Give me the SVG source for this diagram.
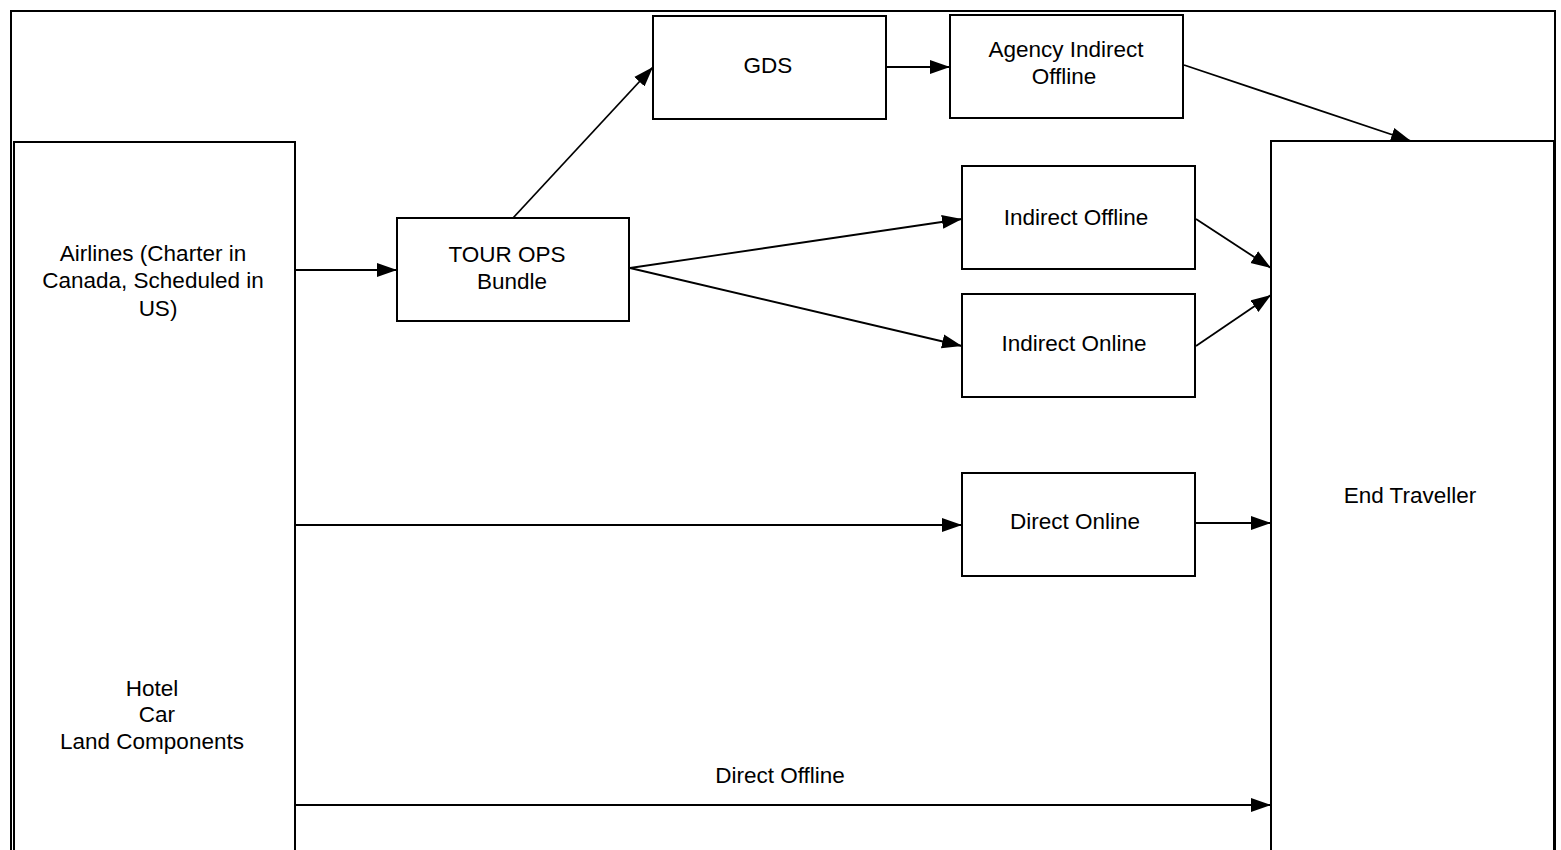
<svg xmlns="http://www.w3.org/2000/svg" width="1561" height="850" viewBox="0 0 1561 850">
<style>
.box{fill:#fff;stroke:#000;stroke-width:2}
.frame{fill:none;stroke:#000;stroke-width:2}
.t{font-family:"Liberation Sans",Arial,sans-serif;font-size:22.5px;fill:#000;text-anchor:middle}
.c{stroke:#000;stroke-width:1.8;fill:none;marker-end:url(#ah)}
</style>
<defs>
<marker id="ah" viewBox="0 0 20 14" refX="20" refY="7" markerWidth="20" markerHeight="15" markerUnits="userSpaceOnUse" orient="auto">
<path d="M0,0 L20,7 L0,14 Z" fill="#000"/>
</marker>
</defs>
<rect width="1561" height="850" fill="#fff"/>
<path class="frame" d="M11,852 L11,11 L1555,11 L1555,852"/>
<g id="airlines">
<rect class="box" x="14" y="142" width="281" height="720"/>
<text class="t" x="153" y="261">Airlines (Charter in</text>
<text class="t" x="153" y="288">Canada, Scheduled in</text>
<text class="t" x="158" y="316">US)</text>
<text class="t" x="152" y="696">Hotel</text>
<text class="t" x="157" y="722">Car</text>
<text class="t" x="152" y="749">Land Components</text>
</g>
<g id="endtraveller">
<rect class="box" x="1271" y="141" width="283" height="720"/>
<text class="t" x="1410" y="503">End Traveller</text>
</g>
<g id="gds">
<rect class="box" x="653" y="16" width="233" height="103"/>
<text class="t" x="768" y="73">GDS</text>
</g>
<g id="agency">
<rect class="box" x="950" y="15" width="233" height="103"/>
<text class="t" x="1066" y="57">Agency Indirect</text>
<text class="t" x="1064" y="84">Offline</text>
</g>
<g id="tourops">
<rect class="box" x="397" y="218" width="232" height="103"/>
<text class="t" x="507" y="262">TOUR OPS</text>
<text class="t" x="512" y="289">Bundle</text>
</g>
<g id="indirectoffline">
<rect class="box" x="962" y="166" width="233" height="103"/>
<text class="t" x="1076" y="225">Indirect Offline</text>
</g>
<g id="indirectonline">
<rect class="box" x="962" y="294" width="233" height="103"/>
<text class="t" x="1074" y="351">Indirect Online</text>
</g>
<g id="directonline">
<rect class="box" x="962" y="473" width="233" height="103"/>
<text class="t" x="1075" y="529">Direct Online</text>
</g>
<g id="connectors">
<line class="c" x1="296" y1="270" x2="397" y2="270"/>
<line class="c" x1="513" y1="218" x2="653" y2="67"/>
<line class="c" x1="886" y1="67" x2="950" y2="67"/>
<line class="c" x1="1184" y1="65" x2="1411" y2="141"/>
<line class="c" x1="630" y1="268" x2="962" y2="219"/>
<line class="c" x1="630" y1="268" x2="962" y2="346"/>
<line class="c" x1="1196" y1="219" x2="1271" y2="268"/>
<line class="c" x1="1196" y1="346" x2="1271" y2="295"/>
<line class="c" x1="296" y1="525" x2="962" y2="525"/>
<line class="c" x1="1196" y1="523" x2="1271" y2="523"/>
<line class="c" x1="296" y1="805" x2="1271" y2="805"/>
<text class="t" x="780" y="783">Direct Offline</text>
</g>
</svg>
